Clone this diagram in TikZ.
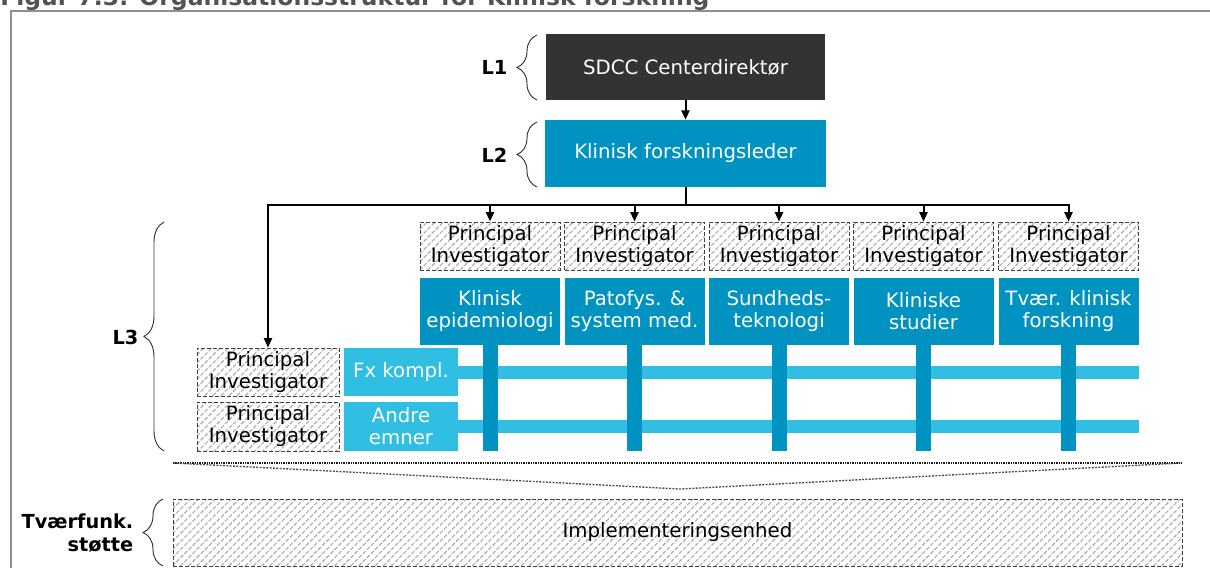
\documentclass[tikz,border=0pt]{standalone}
\usepackage{fontspec}
\setmainfont{DejaVu Sans}
\usetikzlibrary{arrows.meta,patterns.meta,decorations.pathreplacing}
\definecolor{darkbox}{HTML}{333333}
\definecolor{midblue}{HTML}{0093C1}
\definecolor{lightblue}{HTML}{31BEE3}
\definecolor{framegray}{HTML}{8F8F8F}
\definecolor{titlegray}{HTML}{525252}
\definecolor{hatchgray}{HTML}{ADADAD}

\tikzset{
  boxtext/.style={font=\fontsize{14.8}{16.5}\selectfont, align=center},
  solidbox/.style={boxtext, rectangle, inner sep=0pt, text=white, fill=#1},
  pibox/.style={boxtext, rectangle, inner sep=0pt, text=black,
    draw=black!75, line width=0.7pt, dash pattern=on 3pt off 1.5pt,
    pattern={Lines[angle=45,distance=4.3pt,line width=0.85pt]}, pattern color=hatchgray},
  lvl/.style={font=\bfseries\fontsize{14.5}{17}\selectfont, anchor=east, align=right},
  lbrace/.style={decorate, decoration={brace, amplitude=15pt}, draw=black!80, line width=0.7pt},
  arr/.style={-{Triangle[length=7pt,width=6pt]}, line width=1.5pt, draw=black},
  link/.style={line width=1.5pt, draw=black},
  vbar/.style={fill=midblue},
  hbar/.style={fill=lightblue},
}

\begin{document}
\begin{tikzpicture}[x=0.75pt,y=-0.75pt]
\useasboundingbox (0,0) rectangle (1210,568);
\clip (0,0) rectangle (1210,568);

% heading and frame
\node[anchor=base west, inner sep=0pt, text=titlegray,
      font=\bfseries\fontsize{17.6}{19}\selectfont] (title) at (0,5)
  {Figur 7.3: Organisationsstruktur for Klinisk forskning};
\draw[framegray, line width=1.5pt] (11,568) -- (11,11) -- (1210,11);

% level 1 and level 2
\node[solidbox=darkbox, minimum width=209.25pt, minimum height=49.5pt] (dir) at (685.5,67) {SDCC Centerdirektør};
\node[solidbox=midblue, minimum width=210.75pt, minimum height=50.25pt] (lead) at (685.5,153.5) {Klinisk forskningsleder};
\draw[arr] (dir.south) -- (lead.north);

% research areas with their principal investigators
\foreach \i/\cx/\txt in {1/490/{Klinisk\\epidemiologi},
                         2/634.5/{Patofys. \&\\system med.},
                         3/779/{Sundheds-\\teknologi},
                         4/923.5/{Kliniske\\studier},
                         5/1068.5/{Tvær. klinisk\\forskning}}{
  \node[pibox, minimum width=105pt, minimum height=36pt] (pi\i) at (\cx,246) {Principal\\Investigator};
  \node[solidbox=midblue, minimum width=105pt, minimum height=50.25pt] (area\i) at (\cx,311.5) {\txt};
}

% cross-cutting themes
\node[pibox, minimum width=106.5pt, minimum height=36pt] (piA) at (268,372) {Principal\\Investigator};
\node[pibox, minimum width=106.5pt, minimum height=36.75pt] (piB) at (268,426.5) {Principal\\Investigator};
\node[solidbox=lightblue, minimum width=85.5pt, minimum height=36pt] (themeA) at (401,372) {Fx kompl.};
\node[solidbox=lightblue, minimum width=85.5pt, minimum height=36.75pt] (themeB) at (401,426.5) {Andre\\emner};

% matrix bars: themes run across, areas run down
\coordinate (barend) at (1139,0);
\fill[hbar] (themeA.east) ++(0,-6.5) rectangle (barend |- {(0,379)});
\fill[hbar] (themeB.east) ++(0,-6.5) rectangle (barend |- {(0,433)});
\foreach \i in {1,...,5}{
  \fill[vbar] (area\i.south) ++(-7.5,0) rectangle ++(15,106);
}

% reporting lines from the research leader
\coordinate (bus) at (685.5,205);
\draw[link] (lead.south) -- (bus);
\draw[arr] (bus) -| (piA.north);
\foreach \i in {1,...,5}{
  \draw[arr] (bus) -| (pi\i.north);
}

% funnel towards the support unit
\coordinate (fl) at (173,463);
\coordinate (fr) at (1182,463);
\coordinate (fv) at (680,489);
\draw[black!90, line width=0.9pt, dash pattern=on 1pt off 0.8pt] (fl) -- (fr);
\draw[black!70, line width=1pt, dash pattern=on 1.5pt off 1pt] (fl) -- (fv) -- (fr);

\node[pibox, minimum width=756.75pt, minimum height=50.25pt] (impl) at (677.5,532.5) {Implementeringsenhed};

% level braces and labels
\draw[lbrace] (537,100) -- (537,35);
\node[lvl] (l1) at (512,67) {L1};
\draw[lbrace] (537,187) -- (537,122);
\node[lvl] (l2) at (512,155) {L2};
\draw[lbrace] (164,451) -- (164,222);
\node[lvl] (l3) at (143,337) {L3};
\draw[lbrace] (163,566) -- (163,499);
\node[lvl] (l4) at (138,533) {Tværfunk.\\støtte};
\end{tikzpicture}
\end{document}
